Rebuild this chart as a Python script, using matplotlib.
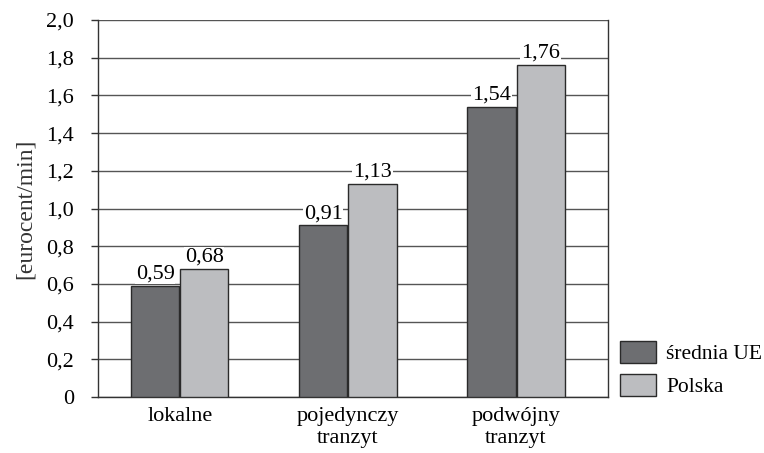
import matplotlib
matplotlib.use("Agg")
import matplotlib.pyplot as plt
import numpy as np

categories = ["lokalne", "pojedynczy\ntranzyt", "podwójny\ntranzyt"]
series_names = ["średnia UE", "Polska"]
srednia_ue = [0.59, 0.91, 1.54]
polska = [0.68, 1.13, 1.76]
yticks = [0, 0.2, 0.4, 0.6, 0.8, 1.0, 1.2, 1.4, 1.6, 1.8, 2.0]

plt.rcParams['font.family'] = ['Liberation Serif', 'DejaVu Serif']

fig = plt.figure(figsize=(7.64, 4.53), dpi=100)
ax = fig.add_axes([0.128, 0.1236, 0.668, 0.8322])

x = np.arange(len(categories))
w = 0.286
b1 = ax.bar(x - w / 2 - 0.003, srednia_ue, w, color='#6d6e71', edgecolor='#2a2a2a',
            linewidth=1, label=series_names[0], zorder=3)
b2 = ax.bar(x + w / 2 + 0.003, polska, w, color='#bcbdc0', edgecolor='#2a2a2a',
            linewidth=1, label=series_names[1], zorder=3)

for bars, vals in ((b1, srednia_ue), (b2, polska)):
    for r, v in zip(bars, vals):
        ax.text(r.get_x() + r.get_width() / 2, v + 0.012, ("%.2f" % v).replace('.', ','),
                ha='center', va='bottom', fontsize=16, zorder=4,
                bbox=dict(facecolor='white', edgecolor='none', pad=0.5))

ax.set_xlim(-0.488, 2.548)
ax.set_ylim(0, 2.0)
ax.set_yticks(yticks)
ax.set_yticklabels(["0"] + [("%.1f" % t).replace('.', ',') for t in yticks[1:]])
ax.set_xticks(x)
ax.set_xticklabels(categories, linespacing=1.2)
ax.tick_params(axis='x', length=0, labelsize=16, pad=7)
ax.tick_params(axis='y', length=5, width=1, color='#333333', labelsize=16, pad=12)
ax.yaxis.grid(True, color='#555555', linewidth=1, zorder=0)
ax.set_axisbelow(True)
ax.spines['top'].set_visible(False)
for s in ('left', 'right', 'bottom'):
    ax.spines[s].set_color('#333333')
    ax.spines[s].set_linewidth(1)
ax.set_ylabel("[eurocent/min]", fontsize=17, color='#333333', labelpad=8)

fig.legend(handles=[b1, b2], labels=series_names, loc='lower left',
           bbox_to_anchor=(0.8115, 0.1236), frameon=False, fontsize=15.5,
           borderpad=0, borderaxespad=0,
           handlelength=1.65, handleheight=1.2, handletextpad=0.5, labelspacing=0.45)

fig.savefig("out.png", dpi=100)
